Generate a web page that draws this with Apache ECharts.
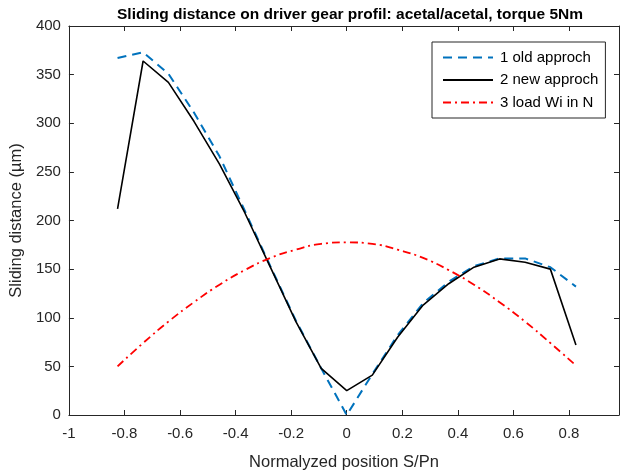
<!DOCTYPE html>
<html>
<head>
<meta charset="utf-8">
<script src="https://cdn.jsdelivr.net/npm/echarts@6/dist/echarts.min.js"></script>
<style>html,body{margin:0;padding:0;background:#fff}#c{width:620px;height:476px}</style>
</head>
<body>
<div id="c"></div>
<script>
var xs = [-0.825, -0.733, -0.642, -0.55, -0.458, -0.367, -0.275, -0.183, -0.092, 0, 0.092, 0.183, 0.275, 0.367, 0.458, 0.55, 0.642, 0.733, 0.825];
var oldApproach = [367, 373, 351, 311, 266, 210, 153, 97, 48, 0, 42, 82, 115, 137, 153, 161, 161, 152, 132];
var newApproach = [212, 364, 342, 302, 258, 208, 152, 96, 48, 25, 41, 80, 113, 135, 152, 160.5, 157, 150, 72];
var loadWi = [50, 74, 96, 116, 134, 149, 161.5, 170, 176, 177.5, 176, 170, 161.5, 149, 134, 116, 96, 74, 51];
var seriesNames = ['1 old approch', '2 new approch', '3 load Wi in N'];
var xTicks = { min: -1, max: 0.98, interval: 0.2 };
var yTicks = { min: 0, max: 400, interval: 50 };

function pairs(vals) { return xs.map(function (x, i) { return [x, vals[i]]; }); }

var font = 'Liberation Sans, Arial, Helvetica, sans-serif';
var axisColor = '#262626';

var chart = echarts.init(document.getElementById('c'), null, { renderer: 'canvas' });
var baseAxis = {
  axisLine: { show: true, onZero: false, lineStyle: { color: axisColor, width: 1 } },
  axisTick: { show: true, inside: true, length: 5, lineStyle: { color: axisColor, width: 1 } },
  splitLine: { show: false }
};
chart.setOption({
  animation: false,
  backgroundColor: '#fff',
  title: {
    text: 'Sliding distance on driver gear profil: acetal/acetal, torque 5Nm',
    left: 345, top: 2, textAlign: 'center',
    textStyle: { fontFamily: font, fontSize: 15.5, fontWeight: 'bold', color: '#000' }
  },
  grid: { left: 68, right: 1, top: 26, bottom: 58, containLabel: false },
  legend: {
    orient: 'vertical', left: 432, top: 42,
    padding: [8, 7, 8, 10], itemGap: 7.5, itemWidth: 50, itemHeight: 14,
    backgroundColor: '#fff', borderColor: axisColor, borderWidth: 1,
    itemStyle: { opacity: 0 },
    textStyle: { fontFamily: font, fontSize: 15, color: '#000', padding: [0, 0, 0, 2] },
    data: seriesNames
  },
  xAxis: [
    Object.assign({}, baseAxis, {
      type: 'value', position: 'bottom', min: xTicks.min, max: xTicks.max, interval: xTicks.interval,
      name: 'Normalyzed position S/Pn', nameLocation: 'middle', nameGap: 39,
      nameTextStyle: { fontFamily: font, fontSize: 16.5, color: axisColor },
      axisLabel: { fontFamily: font, fontSize: 15, color: axisColor, margin: 11, showMaxLabel: false,
        formatter: function (v) { return String(Math.round(v * 10) / 10); } }
    }),
    Object.assign({}, baseAxis, {
      type: 'value', position: 'top', min: xTicks.min, max: xTicks.max, interval: xTicks.interval,
      axisLabel: { show: false }
    })
  ],
  yAxis: [
    Object.assign({}, baseAxis, {
      type: 'value', position: 'left', min: yTicks.min, max: yTicks.max, interval: yTicks.interval,
      name: 'Sliding distance (\u00b5m)', nameLocation: 'middle', nameGap: 40,
      nameTextStyle: { fontFamily: font, fontSize: 16.5, color: axisColor },
      axisLabel: { fontFamily: font, fontSize: 15, color: axisColor, margin: 8 }
    }),
    Object.assign({}, baseAxis, {
      type: 'value', position: 'right', min: yTicks.min, max: yTicks.max, interval: yTicks.interval,
      axisLabel: { show: false }
    })
  ],
  series: [
    { name: seriesNames[0], type: 'line', data: pairs(oldApproach), symbol: 'none', showSymbol: false,
      lineStyle: { color: '#0072BD', width: 2, type: [9, 6] }, itemStyle: { color: '#0072BD' } },
    { name: seriesNames[1], type: 'line', data: pairs(newApproach), symbol: 'none', showSymbol: false,
      lineStyle: { color: '#000', width: 1.6, type: 'solid' }, itemStyle: { color: '#000' } },
    { name: seriesNames[2], type: 'line', data: pairs(loadWi), symbol: 'none', showSymbol: false, smooth: true,
      lineStyle: { color: '#FF0000', width: 1.8, type: [8, 4, 2, 4] }, itemStyle: { color: '#FF0000' } }
  ]
});
</script>
</body>
</html>
